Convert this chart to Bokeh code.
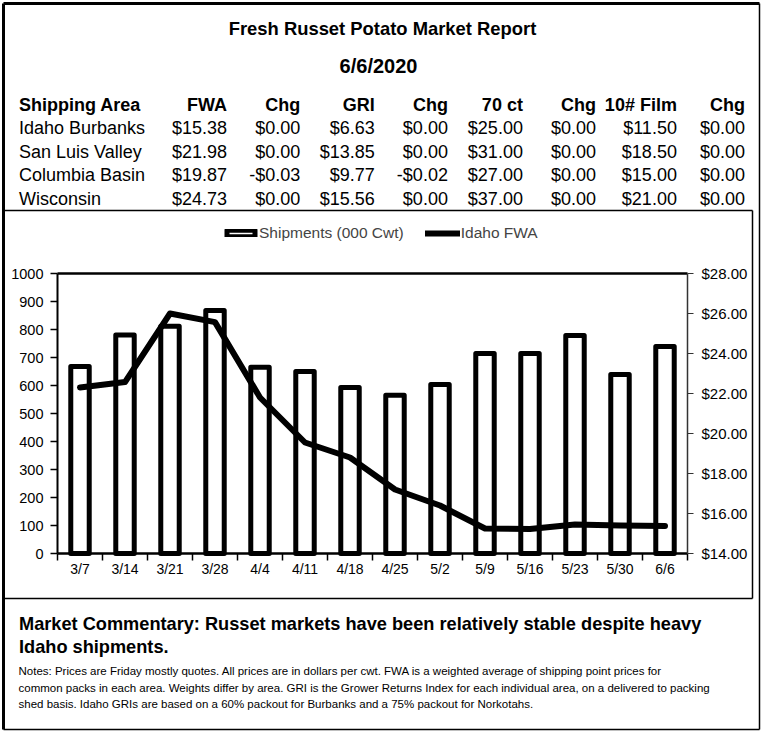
from bokeh.plotting import figure
from bokeh.models import (Range1d, LinearAxis, FixedTicker, SingleIntervalTicker,
                          NumeralTickFormatter, Legend, LegendItem)
from bokeh.core.properties import value
from bokeh.embed import file_html
from bokeh.resources import INLINE

# ---------------- data ----------------
weeks = ["3/7", "3/14", "3/21", "3/28", "4/4", "4/11", "4/18", "4/25",
         "5/2", "5/9", "5/16", "5/23", "5/30", "6/6"]
shipments = [668, 780, 812, 868, 665, 650, 593, 565, 604, 714, 714, 779, 639, 739]
idaho_fwa = [22.30, 22.57, 26.00, 25.57, 21.80, 19.55, 18.80, 17.20, 16.40,
             15.25, 15.22, 15.45, 15.40, 15.38]

report_title = "Fresh Russet Potato Market Report"
report_date = "6/6/2020"
table_header = ["Shipping Area", "FWA", "Chg", "GRI", "Chg", "70 ct", "Chg", "10# Film", "Chg"]
areas = ["Idaho Burbanks", "San Luis Valley", "Columbia Basin", "Wisconsin"]
fwa = ["$15.38", "$21.98", "$19.87", "$24.73"]
fwa_chg = ["$0.00", "$0.00", "-$0.03", "$0.00"]
gri = ["$6.63", "$13.85", "$9.77", "$15.56"]
gri_chg = ["$0.00", "$0.00", "-$0.02", "$0.00"]
ct70 = ["$25.00", "$31.00", "$27.00", "$37.00"]
ct70_chg = ["$0.00", "$0.00", "$0.00", "$0.00"]
film10 = ["$11.50", "$18.50", "$15.00", "$21.00"]
film10_chg = ["$0.00", "$0.00", "$0.00", "$0.00"]

commentary = ["Market Commentary: Russet markets have been relatively stable despite heavy",
              "Idaho shipments."]
notes = ["Notes: Prices are Friday mostly quotes. All prices are in dollars per cwt. FWA is a weighted average of shipping point prices for",
         "common packs in each area. Weights differ by area. GRI is the Grower Returns Index for each individual area, on a delivered to packing",
         "shed basis. Idaho GRIs are based on a 60% packout for Burbanks and a 75% packout for Norkotahs."]

# ---------------- layout (canvas pixel coordinates) ----------------
W, H = 763, 735
FONT = "Liberation Sans"

# chart plot area
CL, CR, CT, CB = 57, 687, 273, 553
n = len(weeks)
SHIP_MAX, P_MIN, P_MAX = 1000, 14, 28

p = figure(width=W, height=H, x_range=Range1d(0, W), y_range=Range1d(H, 0),
           x_axis_type=None, y_axis_type=None, output_backend="svg",
           toolbar_location=None, title=None,
           min_border=0, min_border_left=0, min_border_right=0,
           min_border_top=0, min_border_bottom=0)
p.outline_line_color = None
p.background_fill_color = "white"
p.border_fill_color = "white"

# ranges that place the chart inside the canvas
p.extra_x_ranges = {"wk": Range1d(-CL * n / (CR - CL), (W - CL) * n / (CR - CL))}
p.extra_y_ranges = {
    "ship": Range1d((CB - H) * SHIP_MAX / (CB - CT), CB * SHIP_MAX / (CB - CT)),
    "price": Range1d(P_MIN + (CB - H) * (P_MAX - P_MIN) / (CB - CT),
                     P_MIN + CB * (P_MAX - P_MIN) / (CB - CT)),
}

# ---------------- borders ----------------
p.segment(x0=[3, 3], y0=[3, 3], x1=[759, 3], y1=[3, 729],
          line_color="black", line_width=3)
p.segment(x0=[759, 3, 3, 752, 3], y0=[3, 729, 210, 210, 598],
          x1=[759, 759, 752, 752, 752], y1=[729, 729, 210, 598, 598],
          line_color="black", line_width=1.5)
# top edge of the plot area
p.segment(x0=[CL], y0=[CT], x1=[CR], y1=[CT], line_color="black", line_width=2.5)

# ---------------- chart glyphs ----------------
centers = [i + 0.5 for i in range(n)]
r_bar = p.vbar(x=centers, top=shipments, bottom=0, width=0.41, fill_color="white",
               line_color="black", line_width=5, line_join="round",
               x_range_name="wk", y_range_name="ship")
r_line = p.line(x=centers, y=idaho_fwa, x_range_name="wk", y_range_name="price",
                line_color="black", line_width=6, line_join="round", line_cap="round")

# ---------------- axes ----------------
xaxis = LinearAxis(x_range_name="wk", fixed_location=CB, bounds=(0, n),
                   ticker=FixedTicker(ticks=centers, minor_ticks=list(range(n + 1))),
                   major_label_overrides={c: w for c, w in zip(centers, weeks)})
xaxis.axis_line_width = 2.5
xaxis.major_tick_line_color = None
xaxis.major_tick_out = 0
xaxis.major_tick_in = 0
xaxis.minor_tick_line_color = "black"
xaxis.minor_tick_line_width = 1.5
xaxis.minor_tick_out = 7
xaxis.minor_tick_in = 0
xaxis.major_label_standoff = 0
xaxis.major_label_text_font = FONT
xaxis.major_label_text_font_size = "14px"
xaxis.major_label_text_color = "black"
p.add_layout(xaxis, "below")

yaxis = LinearAxis(y_range_name="ship", fixed_location=CL, bounds=(0, SHIP_MAX),
                   ticker=SingleIntervalTicker(interval=100))
yaxis.axis_line_width = 2
yaxis.major_tick_line_width = 1.5
yaxis.major_tick_out = 7
yaxis.major_tick_in = 0
yaxis.minor_tick_line_color = None
yaxis.major_label_standoff = 7
yaxis.major_label_text_font = FONT
yaxis.major_label_text_font_size = "14.5px"
yaxis.major_label_text_color = "black"
p.add_layout(yaxis, "left")

raxis = LinearAxis(y_range_name="price", fixed_location=CR, bounds=(P_MIN, P_MAX),
                   ticker=SingleIntervalTicker(interval=2),
                   formatter=NumeralTickFormatter(format="$0.00"))
raxis.axis_line_color = "#333333"
raxis.axis_line_width = 1.5
raxis.major_tick_line_color = "#333333"
raxis.major_tick_line_width = 1.2
raxis.major_tick_out = 6
raxis.major_tick_in = 0
raxis.minor_tick_line_color = None
raxis.major_label_standoff = 8
raxis.major_label_text_font = FONT
raxis.major_label_text_font_size = "15px"
raxis.major_label_text_color = "black"
p.add_layout(raxis, "right")

# ---------------- legend ----------------
LEG_H = 18
legend = Legend(items=[LegendItem(label="Shipments (000 Cwt)", renderers=[r_bar]),
                       LegendItem(label="Idaho FWA", renderers=[r_line])],
                orientation="horizontal",
                location=(223, H - (233 + LEG_H / 2)),
                glyph_width=35, glyph_height=8, label_standoff=1, spacing=21,
                padding=0, margin=0, border_line_color=None, background_fill_alpha=0,
                label_text_font=FONT, label_text_font_size="15.5px", label_height=LEG_H)
p.add_layout(legend, "center")


# ---------------- texts ----------------
def add_texts(txts, xs, ys, size, bold=False, align="left"):
    p.text(x=xs, y=ys, text=txts,
           text_font=value(FONT), text_font_size=value(f"{size}px"),
           text_font_style="bold" if bold else "normal",
           text_align=align, text_baseline="middle", text_color="black")


add_texts([report_title], [382], [28], 18.4, bold=True, align="center")
add_texts([report_date], [378], [65], 20, bold=True, align="center")

col_right = [226.6, 299.7, 374.3, 447.4, 522.4, 595.5, 676.4, 744.6]
row_y = [127, 151, 174, 198]
add_texts(table_header[:1], [18.5], [104], 18, bold=True)
add_texts(table_header[1:], col_right, [104] * len(col_right), 18, bold=True, align="right")
add_texts(areas, [18.5] * len(areas), row_y, 18)
columns = [fwa, fwa_chg, gri, gri_chg, ct70, ct70_chg, film10, film10_chg]
for col, cx in zip(columns, col_right):
    add_texts(col, [cx] * len(col), row_y, 18, align="right")

add_texts(commentary, [18.5, 18.5], [623, 646], 18.2, bold=True)
add_texts(notes, [18, 18, 18], [670, 687, 703], 11.5)

open("out.html", "w").write(file_html(p, INLINE))
